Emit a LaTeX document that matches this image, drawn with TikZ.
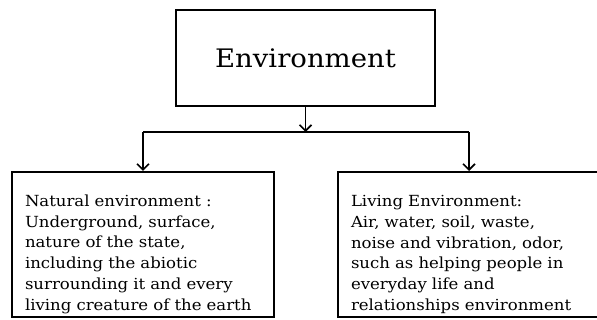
\documentclass[tikz,border=0pt]{standalone}
\usepackage{fontspec}
\setmainfont{DejaVu Serif}[FakeStretch=1.08]
\usepackage{tikz}
\usetikzlibrary{arrows.meta}

\begin{document}
\begin{tikzpicture}
		[
			x=1pt, y=-1pt,
			box/.style = {rectangle, draw=black, line width=2pt, fill=none, inner sep=0pt},
			textbox/.style = {box, minimum width=262pt, minimum height=145pt, text width=236pt, align=left,
				text height=31pt, font=\fontsize{15.3}{20.7}\selectfont},
			link/.style = {line width=1.6pt, draw=black},
			>={Straight Barb[length=6pt, width=12pt, line width=1.6pt]},
		]
		\useasboundingbox (0,0) rectangle (597,320);

		% boxes
		\node[box, minimum width=259pt, minimum height=96pt, font=\fontsize{25.5}{30}\selectfont] (env) at ( 305.5,  58.0 ) {Environment};
		\node[textbox] (nat) 	at ( 143.0, 244.5 ) {Natural environment :\\Underground, surface,\\nature of the state,\\including the abiotic\\surrounding it and every\\living creature of the earth};
		\node[textbox] (living) 	at ( 469.0, 244.5 ) {Living Environment:\\Air, water, soil, waste,\\noise and vibration, odor,\\such as helping people in\\everyday life and\\relationships environment};

		% connectors
		\coordinate (split) at ( 305.5, 132.0 );
		\draw[link, ->] (env) -- (split);
		\draw[link] (split -| nat) -- (split -| living);
		\foreach \to in {nat,living}
		\draw[link, ->] (split -| \to) -- (\to);

		\end{tikzpicture}
\end{document}
